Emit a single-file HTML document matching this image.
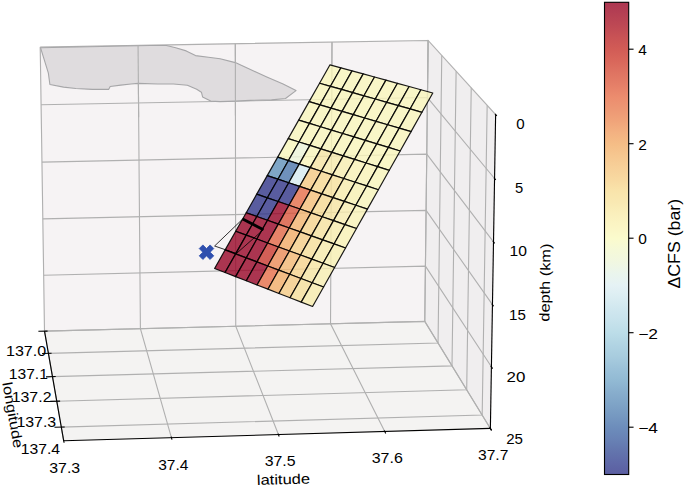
<!DOCTYPE html><html><head><meta charset="utf-8"><style>html,body{margin:0;padding:0;background:#fff;overflow:hidden;width:685px;height:487px;}svg{display:block;}</style></head><body><svg width="685" height="487" viewBox="0 0 685 487">
<rect width="685" height="487" fill="#fff"/>
<polygon points="40.23,47.08 428.12,40.44 424.77,321.39 44.52,331.16" fill="rgb(246, 243, 244)" stroke="rgb(246, 243, 244)" stroke-width="1.39"/>
<polygon points="428.12,40.44 495.62,114.62 490.38,428.42 424.77,321.39" fill="rgb(240, 238, 239)" stroke="rgb(240, 238, 239)" stroke-width="1.39"/>
<polygon points="44.52,331.16 424.77,321.39 490.38,428.42 63.71,440.8" fill="rgb(244, 243, 242)" stroke="rgb(244, 243, 242)" stroke-width="1.39"/>
<g stroke="#b0b0b0" stroke-width="1.11" fill="none"><polyline points="44.52,331.16 424.77,321.39 428.12,40.44"/><polyline points="48.4,353.34 438.05,343.06 441.76,55.43"/><polyline points="52.48,376.65 452.01,365.84 456.11,71.2"/><polyline points="56.78,401.2 466.7,389.8 471.23,87.81"/><polyline points="61.31,427.09 482.18,415.05 487.17,105.34"/><polyline points="40.23,47.08 44.52,331.16 63.71,440.8"/><polyline points="138.06,45.4 140.41,328.7 171.42,437.67"/><polyline points="235.32,43.74 235.74,326.25 278.43,434.57"/><polyline points="332,42.09 330.53,323.82 384.75,431.48"/><polyline points="428.12,40.44 424.77,321.39 490.38,428.42"/><polyline points="40.23,47.08 428.12,40.44 495.62,114.62"/><polyline points="41.1,104.81 427.44,97.53 494.55,178.5"/><polyline points="41.96,162.08 426.77,154.16 493.5,241.81"/><polyline points="42.82,218.89 426.1,210.34 492.45,304.57"/><polyline points="43.67,275.25 425.43,266.09 491.41,366.76"/><polyline points="44.52,331.16 424.77,321.39 490.38,428.42"/></g>
<polygon points="40.5,47.7 48.3,72.8 49.9,84.5 63.6,87.1 75.9,88.5 92.2,89.4 108.6,89.4 110.2,86.5 120.8,85.1 131,84 138.2,83.4 157.6,84 173.4,84 187.4,85.2 196.7,89.2 201.4,92.2 202.6,96.9 210.7,101.1 220.1,101.6 235.3,101.1 250.4,100.4 271.5,99.9 285.5,98.5 296,90.6 283.1,84 266.8,77 250.4,69.6 235.3,62.6 220.1,58.8 208.4,57.2 195.5,55.6 186.2,50.9 175.7,47.8 166.4,45.5 150,45.5" fill="rgb(223,220,222)" stroke="#a6a6a8" stroke-width="1.1" stroke-linejoin="round"/>
<g stroke="#b0b0b0" stroke-width="1.11" fill="none"><polyline points="138.06,45.4 138.66,117.29"/><polyline points="235.32,43.74 235.43,115.43"/><polyline points="332,42.09 331.63,113.57"/><polyline points="428.12,40.44 427.27,111.73"/></g>
<g fill-opacity="0.8" stroke="#000" stroke-opacity="0.9" stroke-width="1.2" stroke-linejoin="round"><polygon points="330,64.8 340.96,67.81 330.48,86.32 319.57,83.22" fill="rgb(250,246,188)"/><polygon points="340.96,67.81 352.04,70.85 341.51,89.45 330.48,86.32" fill="rgb(250,246,188)"/><polygon points="352.04,70.85 363.23,73.91 352.65,92.62 341.51,89.45" fill="rgb(250,246,188)"/><polygon points="363.23,73.91 374.53,77.01 363.91,95.81 352.65,92.62" fill="rgb(250,246,188)"/><polygon points="374.53,77.01 385.94,80.15 375.28,99.04 363.91,95.81" fill="rgb(250,246,188)"/><polygon points="385.94,80.15 397.48,83.31 386.76,102.31 375.28,99.04" fill="rgb(250,246,188)"/><polygon points="397.48,83.31 409.13,86.51 398.36,105.6 386.76,102.31" fill="rgb(250,246,188)"/><polygon points="409.13,86.51 420.9,89.74 410.09,108.93 398.36,105.6" fill="rgb(250,246,188)"/><polygon points="420.9,89.74 432.8,93 421.94,112.3 410.09,108.93" fill="rgb(250,246,188)"/><polygon points="319.57,83.22 330.48,86.32 319.99,104.85 309.12,101.65" fill="rgb(250,246,188)"/><polygon points="330.48,86.32 341.51,89.45 330.98,108.08 319.99,104.85" fill="rgb(250,246,188)"/><polygon points="341.51,89.45 352.65,92.62 342.07,111.34 330.98,108.08" fill="rgb(250,246,188)"/><polygon points="352.65,92.62 363.91,95.81 353.27,114.63 342.07,111.34" fill="rgb(250,246,188)"/><polygon points="363.91,95.81 375.28,99.04 364.59,117.96 353.27,114.63" fill="rgb(250,246,188)"/><polygon points="375.28,99.04 386.76,102.31 376.03,121.32 364.59,117.96" fill="rgb(250,246,188)"/><polygon points="386.76,102.31 398.36,105.6 387.59,124.72 376.03,121.32" fill="rgb(250,246,188)"/><polygon points="398.36,105.6 410.09,108.93 399.26,128.15 387.59,124.72" fill="rgb(250,246,188)"/><polygon points="410.09,108.93 421.94,112.3 411.06,131.62 399.26,128.15" fill="rgb(250,246,188)"/><polygon points="309.12,101.65 319.99,104.85 309.49,123.4 298.67,120.11" fill="rgb(250,246,188)"/><polygon points="319.99,104.85 330.98,108.08 320.43,126.72 309.49,123.4" fill="rgb(250,246,188)"/><polygon points="330.98,108.08 342.07,111.34 331.47,130.08 320.43,126.72" fill="rgb(250,246,188)"/><polygon points="342.07,111.34 353.27,114.63 342.63,133.47 331.47,130.08" fill="rgb(250,246,188)"/><polygon points="353.27,114.63 364.59,117.96 353.9,136.9 342.63,133.47" fill="rgb(250,246,188)"/><polygon points="364.59,117.96 376.03,121.32 365.29,140.36 353.9,136.9" fill="rgb(250,246,188)"/><polygon points="376.03,121.32 387.59,124.72 376.8,143.86 365.29,140.36" fill="rgb(250,246,188)"/><polygon points="387.59,124.72 399.26,128.15 388.42,147.39 376.8,143.86" fill="rgb(250,246,188)"/><polygon points="399.26,128.15 411.06,131.62 400.17,150.96 388.42,147.39" fill="rgb(250,246,188)"/><polygon points="298.67,120.11 309.49,123.4 298.98,141.97 288.2,138.59" fill="rgb(250,246,188)"/><polygon points="309.49,123.4 320.43,126.72 309.86,145.39 298.98,141.97" fill="rgb(250,246,188)"/><polygon points="320.43,126.72 331.47,130.08 320.86,148.85 309.86,145.39" fill="rgb(250,246,188)"/><polygon points="331.47,130.08 342.63,133.47 331.97,152.33 320.86,148.85" fill="rgb(250,246,188)"/><polygon points="342.63,133.47 353.9,136.9 343.2,155.86 331.97,152.33" fill="rgb(250,246,188)"/><polygon points="353.9,136.9 365.29,140.36 354.54,159.42 343.2,155.86" fill="rgb(250,246,188)"/><polygon points="365.29,140.36 376.8,143.86 365.99,163.02 354.54,159.42" fill="rgb(250,246,188)"/><polygon points="376.8,143.86 388.42,147.39 377.57,166.65 365.99,163.02" fill="rgb(250,246,188)"/><polygon points="388.42,147.39 400.17,150.96 389.27,170.32 377.57,166.65" fill="rgb(250,246,188)"/><polygon points="288.2,138.59 298.98,141.97 288.45,160.57 277.72,157.09" fill="rgb(250,248,189)"/><polygon points="298.98,141.97 309.86,145.39 299.29,164.08 288.45,160.57" fill="rgb(237,245,218)"/><polygon points="309.86,145.39 320.86,148.85 310.24,167.63 299.29,164.08" fill="rgb(250,246,188)"/><polygon points="320.86,148.85 331.97,152.33 321.3,171.22 310.24,167.63" fill="rgb(248,230,164)"/><polygon points="331.97,152.33 343.2,155.86 332.48,174.84 321.3,171.22" fill="rgb(249,236,172)"/><polygon points="343.2,155.86 354.54,159.42 343.77,178.5 332.48,174.84" fill="rgb(249,239,177)"/><polygon points="354.54,159.42 365.99,163.02 355.18,182.2 343.77,178.5" fill="rgb(250,243,183)"/><polygon points="365.99,163.02 377.57,166.65 366.7,185.94 355.18,182.2" fill="rgb(250,244,184)"/><polygon points="377.57,166.65 389.27,170.32 378.35,189.71 366.7,185.94" fill="rgb(250,246,188)"/><polygon points="277.72,157.09 288.45,160.57 277.91,179.18 267.23,175.6" fill="rgb(98,146,188)"/><polygon points="288.45,160.57 299.29,164.08 288.71,182.79 277.91,179.18" fill="rgb(77,120,173)"/><polygon points="299.29,164.08 310.24,167.63 299.61,186.44 288.71,182.79" fill="rgb(216,236,241)"/><polygon points="310.24,167.63 321.3,171.22 310.62,190.12 299.61,186.44" fill="rgb(246,202,132)"/><polygon points="321.3,171.22 332.48,174.84 321.75,193.84 310.62,190.12" fill="rgb(247,217,146)"/><polygon points="332.48,174.84 343.77,178.5 332.99,197.6 321.75,193.84" fill="rgb(248,226,158)"/><polygon points="343.77,178.5 355.18,182.2 344.35,201.4 332.99,197.6" fill="rgb(249,237,174)"/><polygon points="355.18,182.2 366.7,185.94 355.83,205.24 344.35,201.4" fill="rgb(249,241,179)"/><polygon points="366.7,185.94 378.35,189.71 367.42,209.12 355.83,205.24" fill="rgb(250,246,188)"/><polygon points="267.23,175.6 277.91,179.18 267.36,197.81 256.72,194.14" fill="rgb(50,54,138)"/><polygon points="277.91,179.18 288.71,182.79 278.11,201.52 267.36,197.81" fill="rgb(50,54,138)"/><polygon points="288.71,182.79 299.61,186.44 288.97,205.26 278.11,201.52" fill="rgb(50,54,138)"/><polygon points="299.61,186.44 310.62,190.12 299.93,209.05 288.97,205.26" fill="rgb(231,111,74)"/><polygon points="310.62,190.12 321.75,193.84 311.01,212.87 299.93,209.05" fill="rgb(245,193,123)"/><polygon points="321.75,193.84 332.99,197.6 322.2,216.73 311.01,212.87" fill="rgb(247,219,148)"/><polygon points="332.99,197.6 344.35,201.4 333.51,220.63 322.2,216.73" fill="rgb(248,230,164)"/><polygon points="344.35,201.4 355.83,205.24 344.94,224.57 333.51,220.63" fill="rgb(249,238,176)"/><polygon points="355.83,205.24 367.42,209.12 356.48,228.55 344.94,224.57" fill="rgb(250,244,184)"/><polygon points="256.72,194.14 267.36,197.81 256.8,216.47 246.21,212.7" fill="rgb(50,54,138)"/><polygon points="267.36,197.81 278.11,201.52 267.5,220.27 256.8,216.47" fill="rgb(50,54,138)"/><polygon points="278.11,201.52 288.97,205.26 278.31,224.11 267.5,220.27" fill="rgb(152,5,39)"/><polygon points="288.97,205.26 299.93,209.05 289.23,227.99 278.31,224.11" fill="rgb(217,86,61)"/><polygon points="299.93,209.05 311.01,212.87 300.26,231.91 289.23,227.99" fill="rgb(244,181,113)"/><polygon points="311.01,212.87 322.2,216.73 311.4,235.87 300.26,231.91" fill="rgb(247,213,143)"/><polygon points="322.2,216.73 333.51,220.63 322.66,239.88 311.4,235.87" fill="rgb(248,228,160)"/><polygon points="333.51,220.63 344.94,224.57 334.04,243.92 322.66,239.88" fill="rgb(249,237,174)"/><polygon points="344.94,224.57 356.48,228.55 345.53,248.01 334.04,243.92" fill="rgb(250,242,181)"/><polygon points="246.21,212.7 256.8,216.47 246.23,235.14 235.69,231.28" fill="rgb(152,5,39)"/><polygon points="256.8,216.47 267.5,220.27 256.88,239.04 246.23,235.14" fill="rgb(152,5,39)"/><polygon points="267.5,220.27 278.31,224.11 267.64,242.98 256.88,239.04" fill="rgb(152,5,39)"/><polygon points="278.31,224.11 289.23,227.99 278.51,246.96 267.64,242.98" fill="rgb(227,104,70)"/><polygon points="289.23,227.99 300.26,231.91 289.49,250.98 278.51,246.96" fill="rgb(243,172,104)"/><polygon points="300.26,231.91 311.4,235.87 300.59,255.04 289.49,250.98" fill="rgb(246,206,136)"/><polygon points="311.4,235.87 322.66,239.88 311.8,259.14 300.59,255.04" fill="rgb(248,224,155)"/><polygon points="322.66,239.88 334.04,243.92 323.12,263.29 311.8,259.14" fill="rgb(249,236,172)"/><polygon points="334.04,243.92 345.53,248.01 334.57,267.48 323.12,263.29" fill="rgb(249,241,179)"/><polygon points="235.69,231.28 246.23,235.14 235.65,253.84 225.15,249.88" fill="rgb(152,5,39)"/><polygon points="246.23,235.14 256.88,239.04 246.25,257.83 235.65,253.84" fill="rgb(152,5,39)"/><polygon points="256.88,239.04 267.64,242.98 256.96,261.87 246.25,257.83" fill="rgb(152,5,39)"/><polygon points="267.64,242.98 278.51,246.96 267.78,265.95 256.96,261.87" fill="rgb(203,58,47)"/><polygon points="278.51,246.96 289.49,250.98 278.71,270.07 267.78,265.95" fill="rgb(236,140,88)"/><polygon points="289.49,250.98 300.59,255.04 289.76,274.23 278.71,270.07" fill="rgb(244,185,116)"/><polygon points="300.59,255.04 311.8,259.14 300.92,278.44 289.76,274.23" fill="rgb(247,213,143)"/><polygon points="311.8,259.14 323.12,263.29 312.2,282.69 300.92,278.44" fill="rgb(248,230,164)"/><polygon points="323.12,263.29 334.57,267.48 323.59,286.98 312.2,282.69" fill="rgb(249,239,177)"/><polygon points="225.15,249.88 235.65,253.84 225.05,272.55 214.6,268.5" fill="rgb(152,5,39)"/><polygon points="235.65,253.84 246.25,257.83 235.61,276.65 225.05,272.55" fill="rgb(152,5,39)"/><polygon points="246.25,257.83 256.96,261.87 246.27,280.78 235.61,276.65" fill="rgb(152,5,39)"/><polygon points="256.96,261.87 267.78,265.95 257.04,284.96 246.27,280.78" fill="rgb(152,5,39)"/><polygon points="267.78,265.95 278.71,270.07 267.93,289.18 257.04,284.96" fill="rgb(231,111,74)"/><polygon points="278.71,270.07 289.76,274.23 278.92,293.44 267.93,289.18" fill="rgb(243,174,105)"/><polygon points="289.76,274.23 300.92,278.44 290.03,297.75 278.92,293.44" fill="rgb(246,204,134)"/><polygon points="300.92,278.44 312.2,282.69 301.26,302.1 290.03,297.75" fill="rgb(248,224,155)"/><polygon points="312.2,282.69 323.59,286.98 312.6,306.5 301.26,302.1" fill="rgb(249,236,172)"/></g>
<polygon points="242.7,219 263.4,229.7 236.4,253.5 214.6,246" fill="none" stroke="#000" stroke-width="0.8"/>
<line x1="242.7" y1="219" x2="263.4" y2="229.7" stroke="#000" stroke-width="2.8"/>
<polygon points="210.11,244.92 213.78,248.59 210.18,252.2 213.78,255.81 210.11,259.48 206.5,255.88 202.89,259.48 199.22,255.81 202.82,252.2 199.22,248.59 202.89,244.92 206.5,248.52" fill="#2f4fae" stroke="#2f4fae" stroke-width="0.8" stroke-linejoin="round"/>
<g stroke="#000" stroke-width="1.11" fill="none" stroke-linecap="butt"><polyline points="44.52,331.16 63.71,440.8"/><polyline points="63.71,440.8 490.38,428.42"/><polyline points="495.62,114.62 490.38,428.42"/><polyline points="38.36,331.32 47.59,331.08"/><polyline points="42.09,353.5 51.55,353.25"/><polyline points="46.01,376.83 55.71,376.56"/><polyline points="50.13,401.39 60.1,401.11"/><polyline points="54.49,427.28 64.72,426.99"/><polyline points="64.06,442.77 63.54,439.81"/><polyline points="171.98,439.64 171.14,436.69"/><polyline points="279.2,436.52 278.05,433.59"/><polyline points="385.72,433.42 384.26,430.52"/><polyline points="491.56,430.34 489.79,427.46"/><polyline points="496.84,115.96 495.01,113.95"/><polyline points="495.76,179.96 493.95,177.77"/><polyline points="494.7,243.39 492.9,241.03"/><polyline points="493.64,306.26 491.85,303.72"/><polyline points="492.6,368.58 490.82,365.86"/><polyline points="491.56,430.34 489.79,427.46"/></g>
<text x="26.1" y="356.18" font-family="Liberation Sans, sans-serif" font-size="14.2" text-anchor="middle" textLength="40.2" lengthAdjust="spacingAndGlyphs" fill="#000">137.0</text>
<text x="28.35" y="378.83" font-family="Liberation Sans, sans-serif" font-size="14.2" text-anchor="middle" textLength="39.1" lengthAdjust="spacingAndGlyphs" fill="#000">137.1</text>
<text x="31.6" y="402.13" font-family="Liberation Sans, sans-serif" font-size="14.2" text-anchor="middle" textLength="39.8" lengthAdjust="spacingAndGlyphs" fill="#000">137.2</text>
<text x="36.3" y="427.48" font-family="Liberation Sans, sans-serif" font-size="14.2" text-anchor="middle" textLength="39.8" lengthAdjust="spacingAndGlyphs" fill="#000">137.3</text>
<text x="40.45" y="453.93" font-family="Liberation Sans, sans-serif" font-size="14.2" text-anchor="middle" textLength="39.3" lengthAdjust="spacingAndGlyphs" fill="#000">137.4</text>
<text x="64.75" y="472.53" font-family="Liberation Sans, sans-serif" font-size="14.2" text-anchor="middle" textLength="30.9" lengthAdjust="spacingAndGlyphs" fill="#000">37.3</text>
<text x="173.3" y="469.73" font-family="Liberation Sans, sans-serif" font-size="14.2" text-anchor="middle" textLength="30.2" lengthAdjust="spacingAndGlyphs" fill="#000">37.4</text>
<text x="280.15" y="466.13" font-family="Liberation Sans, sans-serif" font-size="14.2" text-anchor="middle" textLength="30.9" lengthAdjust="spacingAndGlyphs" fill="#000">37.5</text>
<text x="387.25" y="463.18" font-family="Liberation Sans, sans-serif" font-size="14.2" text-anchor="middle" textLength="31.1" lengthAdjust="spacingAndGlyphs" fill="#000">37.6</text>
<text x="493.2" y="459.63" font-family="Liberation Sans, sans-serif" font-size="14.2" text-anchor="middle" textLength="30.4" lengthAdjust="spacingAndGlyphs" fill="#000">37.7</text>
<text x="520.5" y="128.68" font-family="Liberation Sans, sans-serif" font-size="14.2" text-anchor="middle" textLength="8.4" lengthAdjust="spacingAndGlyphs" fill="#000">0</text>
<text x="519" y="193.28" font-family="Liberation Sans, sans-serif" font-size="14.2" text-anchor="middle" textLength="8.2" lengthAdjust="spacingAndGlyphs" fill="#000">5</text>
<text x="518.3" y="255.93" font-family="Liberation Sans, sans-serif" font-size="14.2" text-anchor="middle" textLength="17.4" lengthAdjust="spacingAndGlyphs" fill="#000">10</text>
<text x="517.4" y="319.58" font-family="Liberation Sans, sans-serif" font-size="14.2" text-anchor="middle" textLength="16.8" lengthAdjust="spacingAndGlyphs" fill="#000">15</text>
<text x="515.9" y="381.78" font-family="Liberation Sans, sans-serif" font-size="14.2" text-anchor="middle" textLength="18.8" lengthAdjust="spacingAndGlyphs" fill="#000">20</text>
<text x="514.6" y="443.73" font-family="Liberation Sans, sans-serif" font-size="14.2" text-anchor="middle" textLength="16.8" lengthAdjust="spacingAndGlyphs" fill="#000">25</text>
<text transform="translate(283.5,480.5) rotate(-1.66)" x="0" y="3.64" font-family="Liberation Sans, sans-serif" font-size="14" text-anchor="middle" textLength="53.3" lengthAdjust="spacingAndGlyphs">latitude</text>
<text transform="translate(11.7,415.3) rotate(79.9)" x="0" y="3.64" font-family="Liberation Sans, sans-serif" font-size="14" text-anchor="middle" textLength="66.8" lengthAdjust="spacingAndGlyphs">longitude</text>
<text transform="translate(546.3,282.6) rotate(-89.1)" x="0" y="3.64" font-family="Liberation Sans, sans-serif" font-size="14" text-anchor="middle" textLength="78" lengthAdjust="spacingAndGlyphs">depth (km)</text>
<text transform="translate(675.8,243.7) rotate(-90)" x="0" y="4.34" font-family="Liberation Sans, sans-serif" font-size="16.7" text-anchor="middle" textLength="89.8" lengthAdjust="spacingAndGlyphs">ΔCFS (bar)</text>
<defs><linearGradient id="cb" x1="0" y1="0" x2="0" y2="1"><stop offset="0.000" stop-color="rgb(173,55,82)"/><stop offset="0.025" stop-color="rgb(181,64,83)"/><stop offset="0.050" stop-color="rgb(190,73,84)"/><stop offset="0.075" stop-color="rgb(201,83,85)"/><stop offset="0.100" stop-color="rgb(210,92,86)"/><stop offset="0.125" stop-color="rgb(217,103,91)"/><stop offset="0.150" stop-color="rgb(223,116,98)"/><stop offset="0.175" stop-color="rgb(229,127,104)"/><stop offset="0.200" stop-color="rgb(236,140,110)"/><stop offset="0.225" stop-color="rgb(237,151,116)"/><stop offset="0.250" stop-color="rgb(240,163,121)"/><stop offset="0.275" stop-color="rgb(243,177,129)"/><stop offset="0.300" stop-color="rgb(245,189,134)"/><stop offset="0.325" stop-color="rgb(246,199,144)"/><stop offset="0.350" stop-color="rgb(247,208,153)"/><stop offset="0.375" stop-color="rgb(248,217,161)"/><stop offset="0.400" stop-color="rgb(249,228,171)"/><stop offset="0.425" stop-color="rgb(249,233,179)"/><stop offset="0.450" stop-color="rgb(250,240,189)"/><stop offset="0.475" stop-color="rgb(251,245,197)"/><stop offset="0.500" stop-color="rgb(251,251,205)"/><stop offset="0.525" stop-color="rgb(245,249,216)"/><stop offset="0.550" stop-color="rgb(241,247,225)"/><stop offset="0.575" stop-color="rgb(234,245,237)"/><stop offset="0.600" stop-color="rgb(229,242,245)"/><stop offset="0.625" stop-color="rgb(219,237,242)"/><stop offset="0.650" stop-color="rgb(208,231,239)"/><stop offset="0.675" stop-color="rgb(199,226,236)"/><stop offset="0.700" stop-color="rgb(188,221,232)"/><stop offset="0.725" stop-color="rgb(177,212,227)"/><stop offset="0.750" stop-color="rgb(168,204,222)"/><stop offset="0.775" stop-color="rgb(156,194,217)"/><stop offset="0.800" stop-color="rgb(146,186,212)"/><stop offset="0.825" stop-color="rgb(136,174,205)"/><stop offset="0.850" stop-color="rgb(127,164,199)"/><stop offset="0.875" stop-color="rgb(118,153,193)"/><stop offset="0.900" stop-color="rgb(109,141,187)"/><stop offset="0.925" stop-color="rgb(104,130,181)"/><stop offset="0.950" stop-color="rgb(99,117,173)"/><stop offset="0.975" stop-color="rgb(95,105,168)"/><stop offset="1.000" stop-color="rgb(91,94,161)"/></linearGradient></defs>
<rect x="604.5" y="2.3" width="24.2" height="472.2" fill="url(#cb)" stroke="#000" stroke-width="1.11"/>
<line x1="628.7" y1="49.2" x2="633.56" y2="49.2" stroke="#000" stroke-width="1.11"/>
<text x="638.2" y="55" font-family="Liberation Sans, sans-serif" font-size="14.2" textLength="8.6" lengthAdjust="spacingAndGlyphs">4</text>
<line x1="628.7" y1="143.7" x2="633.56" y2="143.7" stroke="#000" stroke-width="1.11"/>
<text x="638.2" y="149.5" font-family="Liberation Sans, sans-serif" font-size="14.2" textLength="8.6" lengthAdjust="spacingAndGlyphs">2</text>
<line x1="628.7" y1="238.2" x2="633.56" y2="238.2" stroke="#000" stroke-width="1.11"/>
<text x="638.2" y="244" font-family="Liberation Sans, sans-serif" font-size="14.2" textLength="8.6" lengthAdjust="spacingAndGlyphs">0</text>
<line x1="628.7" y1="332.7" x2="633.56" y2="332.7" stroke="#000" stroke-width="1.11"/>
<text x="638.2" y="338.5" font-family="Liberation Sans, sans-serif" font-size="14.2" textLength="19.8" lengthAdjust="spacingAndGlyphs">−2</text>
<line x1="628.7" y1="427.2" x2="633.56" y2="427.2" stroke="#000" stroke-width="1.11"/>
<text x="638.2" y="433" font-family="Liberation Sans, sans-serif" font-size="14.2" textLength="19.8" lengthAdjust="spacingAndGlyphs">−4</text>
</svg></body></html>
